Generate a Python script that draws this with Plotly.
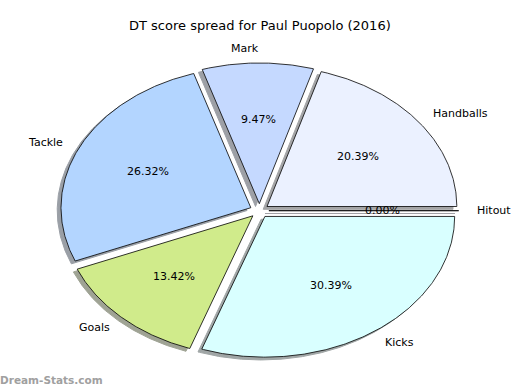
import numpy as np
import plotly.graph_objects as go

labels = ["Handballs", "Mark", "Tackle", "Goals", "Kicks", "Hitout"]
values = [20.39, 9.47, 26.32, 13.42, 30.39, 0.00]
colors = ["#ebf1ff", "#c5d9ff", "#b3d5ff", "#d0eb8b", "#d9ffff", "#e0e0ff"]
title = "DT score spread for Paul Puopolo (2016)"
watermark = "Dream-Stats.com"

# layout (pixel space)
W, H = 520, 390
CX, CY = 259.4, 210.7
RX, RY = 189.8, 140.7
EXPLODE = 0.05
LABELDIST, PCTDIST = 1.1, 0.6
SHADOW = (-0.02, -0.02)
FONT = "DejaVu Sans"


def hex_rgb(h):
    h = h.lstrip("#")
    return tuple(int(h[i:i + 2], 16) for i in (0, 2, 4))


def to_px(x, y):
    return CX + x * RX, CY - y * RY


total = sum(values)
fracs = [v / total for v in values]

wedges = []
theta1 = 0.0
for lab, f, col in zip(labels, fracs, colors):
    theta2 = theta1 + 360.0 * f
    thetam = np.deg2rad((theta1 + theta2) / 2)
    x0 = EXPLODE * np.cos(thetam)
    y0 = EXPLODE * np.sin(thetam)
    t = np.deg2rad(np.linspace(theta1, theta2, max(2, int((theta2 - theta1) * 2) + 2)))
    xs = np.concatenate([[x0], x0 + np.cos(t), [x0]])
    ys = np.concatenate([[y0], y0 + np.sin(t), [y0]])
    wedges.append(dict(lab=lab, f=f, col=col, x0=x0, y0=y0, xs=xs, ys=ys, thetam=thetam))
    theta1 = theta2

fig = go.Figure()

# shadows first
for w in wedges:
    px, py = to_px(w["xs"] + SHADOW[0], w["ys"] + SHADOW[1])
    r, g, b = hex_rgb(w["col"])
    sc = tuple(int(round(255 - 0.5 * (255 - 0.3 * c))) for c in (r, g, b))
    scol = "rgb(%d,%d,%d)" % sc
    fig.add_trace(go.Scatter(x=px, y=py, mode="lines", fill="toself", fillcolor=scol,
                             line=dict(color=scol, width=1), hoverinfo="skip", showlegend=False))

# wedges
for w in wedges:
    px, py = to_px(w["xs"], w["ys"])
    fig.add_trace(go.Scatter(x=px, y=py, mode="lines", fill="toself", fillcolor=w["col"],
                             line=dict(color="black", width=0.8), hoverinfo="text",
                             text=w["lab"], showlegend=False))

annotations = []
for w in wedges:
    xt = w["x0"] + LABELDIST * np.cos(w["thetam"])
    yt = w["y0"] + LABELDIST * np.sin(w["thetam"])
    ax, ay = to_px(xt, yt)
    left = xt > 0
    annotations.append(dict(x=ax, y=ay, text=w["lab"], showarrow=False,
                            xanchor="left" if left else "right", yanchor="middle",
                            xshift=-3 if left else 3,
                            font=dict(family=FONT, size=11, color="black")))
    xp = w["x0"] + PCTDIST * np.cos(w["thetam"])
    yp = w["y0"] + PCTDIST * np.sin(w["thetam"])
    bx, by = to_px(xp, yp)
    annotations.append(dict(x=bx, y=by, text="%.2f%%" % (w["f"] * 100), showarrow=False,
                            xanchor="center", yanchor="middle",
                            font=dict(family=FONT, size=11, color="black")))

annotations.append(dict(x=260, y=25, text=title, showarrow=False, xanchor="center",
                        yanchor="middle", font=dict(family=FONT, size=13, color="black")))
annotations.append(dict(x=0, y=0.025, xref="paper", yref="paper", text="<b>" + watermark + "</b>",
                        showarrow=False, xanchor="left", yanchor="middle", xshift=-2,
                        font=dict(family=FONT, size=10.5, color="#a0a0a0")))

fig.update_layout(
    width=W, height=H, margin=dict(l=0, r=0, t=0, b=0),
    paper_bgcolor="white", plot_bgcolor="white",
    xaxis=dict(range=[0, W], visible=False, fixedrange=True),
    yaxis=dict(range=[H, 0], visible=False, fixedrange=True),
    annotations=annotations, showlegend=False,
)

fig.write_html("out.html", config={"displayModeBar": False},
               post_script="document.body.style.margin='0px';document.body.style.overflow='hidden';")
